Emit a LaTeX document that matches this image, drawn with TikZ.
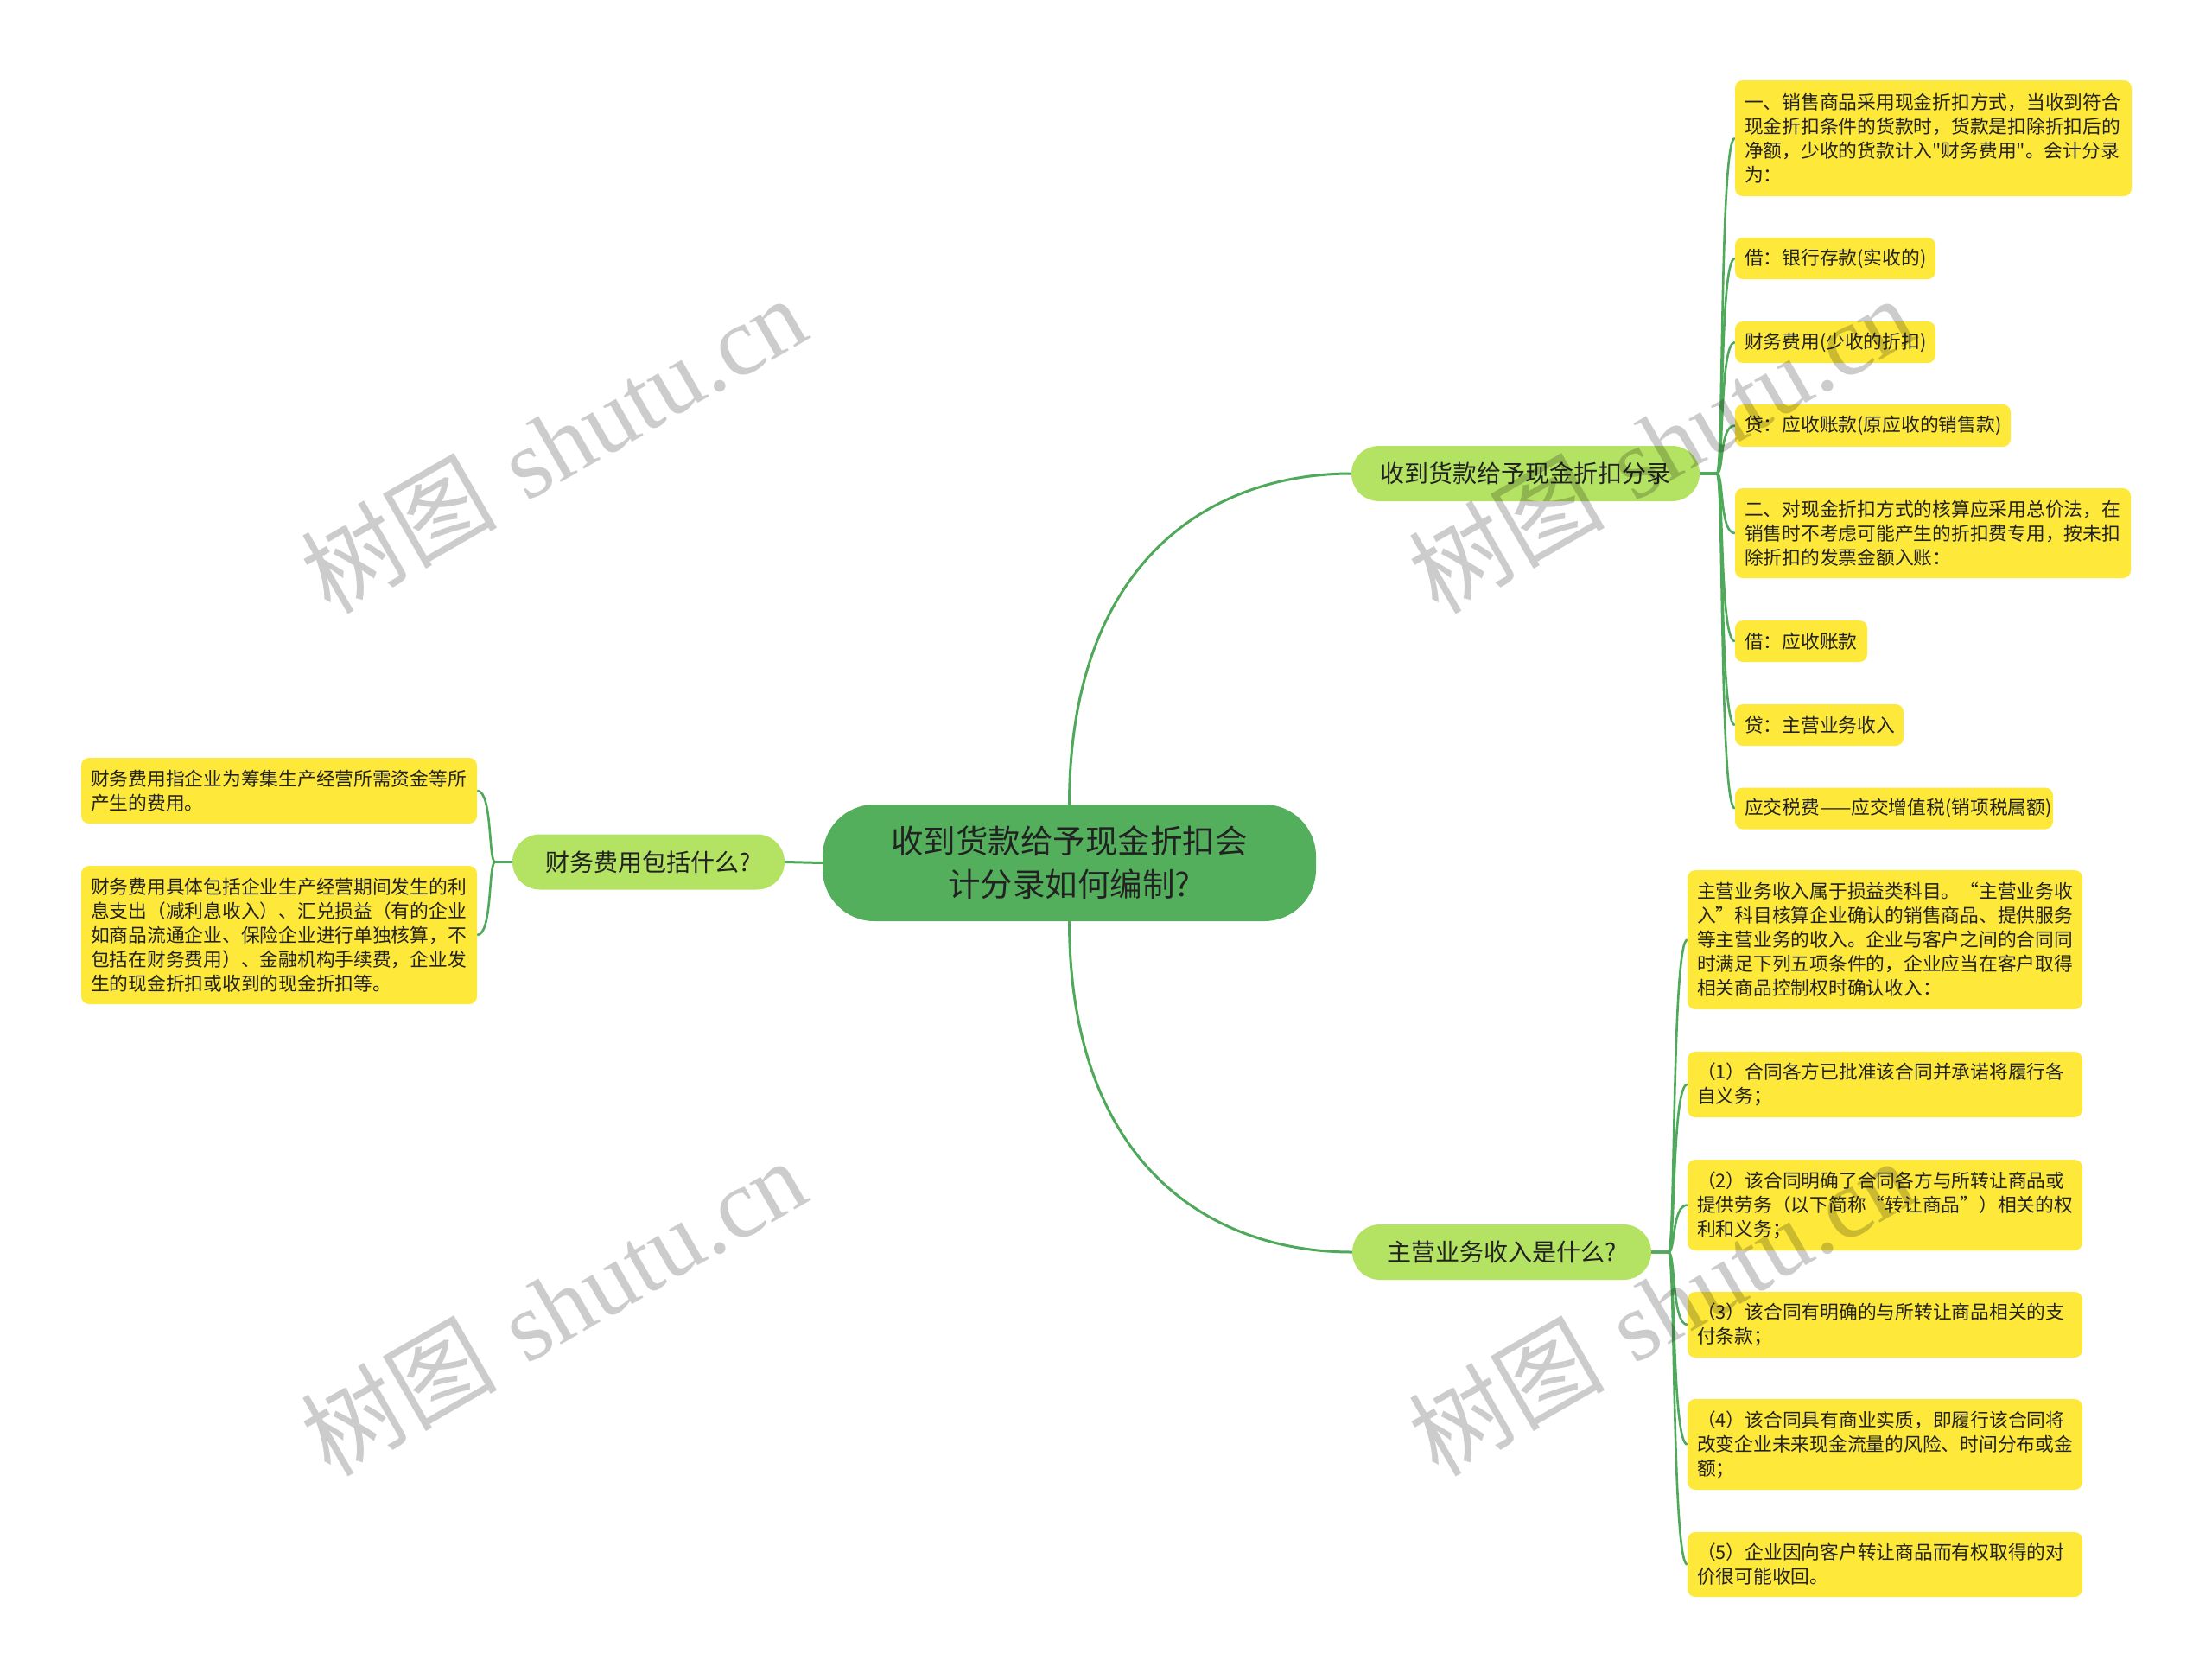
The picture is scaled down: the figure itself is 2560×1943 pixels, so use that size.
\documentclass[tikz,border=0pt]{standalone}
\usepackage{fontspec}
\newfontfamily\cjk{Noto Sans CJK SC}
\newfontfamily\wmserif{Liberation Serif}
\usetikzlibrary{backgrounds}
\definecolor{leafyellow}{HTML}{FEE93B}
\definecolor{branchgreen}{HTML}{B4E363}
\definecolor{rootgreen}{HTML}{53AF5C}
\definecolor{linegreen}{HTML}{4FA95A}
\definecolor{textdark}{HTML}{222222}
\tikzset{
  leafbox/.style={fill=leafyellow, rounded corners=9pt, inner xsep=11pt, inner ysep=0pt, align=left, text=textdark, font=\cjk\fontsize{21.75}{28}\selectfont},
  branchbox/.style={fill=branchgreen, rounded corners=32pt, inner sep=0pt, minimum height=64pt, text=textdark, font=\cjk\fontsize{28}{34}\selectfont},
  rootbox/.style={fill=rootgreen, rounded corners=60pt, inner sep=0pt, minimum width=571pt, minimum height=135pt, align=center, text=textdark, font=\cjk\fontsize{37.5}{50}\selectfont},
  mainlink/.style={draw=linegreen, line width=3pt},
  leaflink/.style={draw=linegreen, line width=2.6pt},
  wmark/.style={rotate=30, text=black, text opacity=0.2, font=\fontsize{114}{120}\selectfont}
}
\begin{document}
\begin{tikzpicture}[x=1pt,y=-1pt]
\useasboundingbox (0,0) rectangle (2560,1943);

% root and branches
\node[rootbox] (root) at (1237.5,998.5) {收到货款给予现金折扣会\\计分录如何编制?};
\node[branchbox, minimum width=403pt] (b1) at (1765.5,548) {收到货款给予现金折扣分录};
\node[branchbox, minimum width=315pt] (b2) at (750.5,997.5) {财务费用包括什么?};
\node[branchbox, minimum width=346pt] (b3) at (1738,1449) {主营业务收入是什么?};

% leaves of b1
\node[leafbox, text width=437pt, minimum height=134pt] (L1) at (2237.5,160) {一、销售商品采用现金折扣方式，当收到符合\\现金折扣条件的货款时，货款是扣除折扣后的\\净额，少收的货款计入"财务费用"。会计分录\\为：};
\node[leafbox, text width=210pt, minimum height=48pt] (L2) at (2124,299) {借：银行存款(实收的)};
\node[leafbox, text width=210pt, minimum height=48pt] (L3) at (2124,396) {财务费用(少收的折扣)};
\node[leafbox, text width=297pt, minimum height=49pt] (L4) at (2167.5,492.5) {贷：应收账款(原应收的销售款)};
\node[leafbox, text width=436pt, minimum height=104pt] (L5) at (2237,617) {二、对现金折扣方式的核算应采用总价法，在\\销售时不考虑可能产生的折扣费专用，按未扣\\除折扣的发票金额入账：};
\node[leafbox, text width=131pt, minimum height=48pt] (L6) at (2084.5,742) {借：应收账款};
\node[leafbox, text width=173pt, minimum height=48pt] (L7) at (2105.5,839) {贷：主营业务收入};
\node[leafbox, text width=346pt, minimum height=48pt] (L8) at (2192,935.5) {\mbox{应交税费——应交增值税(销项税属额)}};

% leaves of b3
\node[leafbox, text width=435pt, minimum height=161pt] (M1) at (2181.5,1087.5) {主营业务收入属于损益类科目。“主营业务收\\入”科目核算企业确认的销售商品、提供服务\\等主营业务的收入。企业与客户之间的合同同\\时满足下列五项条件的，企业应当在客户取得\\相关商品控制权时确认收入：};
\node[leafbox, text width=435pt, minimum height=76pt] (M2) at (2181.5,1255) {（1）合同各方已批准该合同并承诺将履行各\\自义务；};
\node[leafbox, text width=435pt, minimum height=105pt] (M3) at (2181.5,1394.5) {（2）该合同明确了合同各方与所转让商品或\\提供劳务（以下简称“转让商品”）相关的权\\利和义务；};
\node[leafbox, text width=435pt, minimum height=76pt] (M4) at (2181.5,1533) {（3）该合同有明确的与所转让商品相关的支\\付条款；};
\node[leafbox, text width=435pt, minimum height=105pt] (M5) at (2181.5,1671.5) {（4）该合同具有商业实质，即履行该合同将\\改变企业未来现金流量的风险、时间分布或金\\额；};
\node[leafbox, text width=435pt, minimum height=75pt] (M6) at (2181.5,1810.5) {（5）企业因向客户转让商品而有权取得的对\\价很可能收回。};

% leaves of b2
\node[leafbox, text width=436pt, minimum height=76pt] (N1) at (323,915) {财务费用指企业为筹集生产经营所需资金等所\\产生的费用。};
\node[leafbox, text width=436pt, minimum height=160pt] (N2) at (323,1082) {财务费用具体包括企业生产经营期间发生的利\\息支出（减利息收入）、汇兑损益（有的企业\\如商品流通企业、保险企业进行单独核算，不\\包括在财务费用）、金融机构手续费，企业发\\生的现金折扣或收到的现金折扣等。};

\coordinate (s1) at (1987,548);
\coordinate (s2) at (573,997.5);
\coordinate (s3) at (1931,1449);

\begin{scope}[on background layer]
\fill[white] (0,0) rectangle (2560,1943);
\draw[mainlink] (root.north) .. controls (1238,650) and (1400,548) .. (b1.west);
\draw[mainlink] (root.south) .. controls (1238,1347) and (1400,1449) .. (b3.west);
\draw[mainlink] (root.west) -- (b2.east);
\foreach \n in {L1,L2,L3,L4,L5,L6,L7,L8}
  \draw[leaflink] (b1.east) -- (s1) .. controls +(8,0) and +(-18,0) .. (\n.west);
\foreach \n in {M1,M2,M3,M4,M5,M6}
  \draw[leaflink] (b3.east) -- (s3) .. controls +(8,0) and +(-18,0) .. (\n.west);
\foreach \n in {N1,N2}
  \draw[leaflink] (b2.west) -- (s2) .. controls +(-8,0) and +(18,0) .. (\n.east);
\end{scope}

% watermarks
\node[wmark] (wm1) at (640,514) {{\cjk 树图} {\wmserif shutu.cn}};
\node[wmark] (wm2) at (1922,514) {{\cjk 树图} {\wmserif shutu.cn}};
\node[wmark] (wm3) at (640,1512) {{\cjk 树图} {\wmserif shutu.cn}};
\node[wmark] (wm4) at (1922,1512) {{\cjk 树图} {\wmserif shutu.cn}};
\end{tikzpicture}
\end{document}
